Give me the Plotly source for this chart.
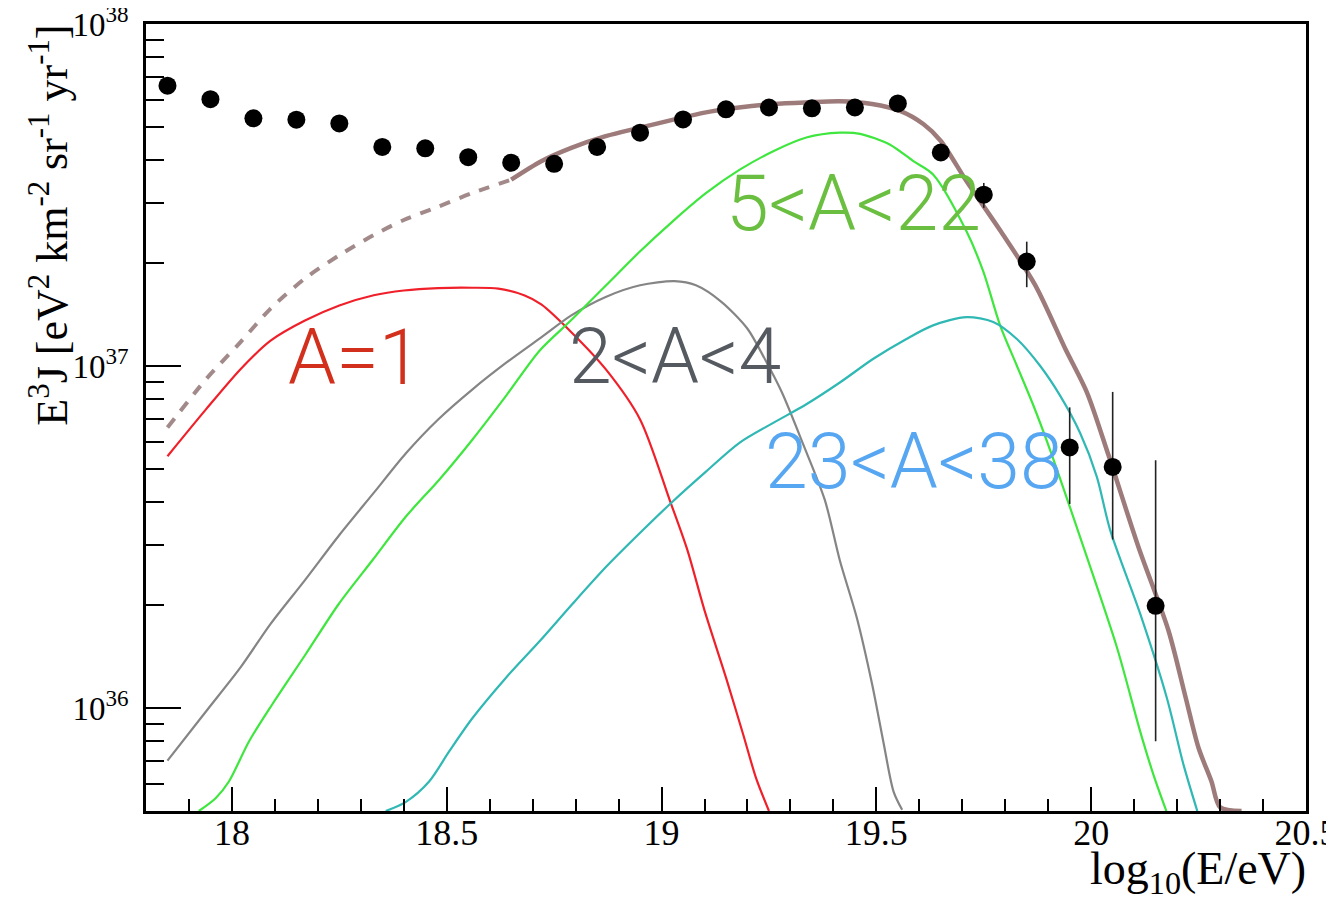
import math
import plotly.graph_objects as go

# ---------------- data ----------------
# measured spectrum (points) with asymmetric errors
data_x = [17.85, 17.95, 18.05, 18.15, 18.25, 18.35, 18.45, 18.55, 18.65, 18.75,
          18.85, 18.95, 19.05, 19.15, 19.25, 19.35, 19.45, 19.55, 19.65, 19.75,
          19.85, 19.95, 20.05, 20.15]
data_y = [6.60e37, 6.03e37, 5.30e37, 5.25e37, 5.12e37, 4.37e37, 4.33e37, 4.08e37, 3.93e37, 3.90e37,
          4.37e37, 4.81e37, 5.26e37, 5.63e37, 5.70e37, 5.67e37, 5.70e37, 5.86e37, 4.21e37, 3.17e37,
          2.02e37, 5.78e36, 5.07e36, 1.99e36]
data_hi = [0, 0, 0, 0, 0, 0, 0, 0, 0, 0,
           0, 0, 0, 0, 0, 0, 0, 0, 0, 3.43e37,
           2.31e37, 7.57e36, 8.40e36, 5.30e36]
data_lo = [0, 0, 0, 0, 0, 0, 0, 0, 0, 0,
           0, 0, 0, 0, 0, 0, 0, 0, 0, 2.90e37,
           1.70e37, 3.95e36, 3.11e36, 8.0e35]

# A = 1
p_x = [17.85, 17.94, 18.02, 18.09, 18.17, 18.25, 18.33, 18.40, 18.48, 18.56, 18.62, 18.68,
       18.72, 18.79, 18.87, 18.95, 19.02, 19.06, 19.10, 19.15, 19.19, 19.22, 19.25]
p_y = [5.45e36, 7.48e36, 9.79e36, 1.186e37, 1.358e37, 1.503e37, 1.61e37, 1.663e37, 1.69e37,
       1.694e37, 1.683e37, 1.61e37, 1.514e37, 1.256e37, 9.79e36, 6.98e36, 4.02e36, 2.90e36,
       1.93e36, 1.227e36, 8.37e35, 6.24e35, 5.0e35]

# 2 < A < 4
he_x = [17.85, 17.94, 18.02, 18.09, 18.17, 18.25, 18.33, 18.405, 18.48, 18.56, 18.64, 18.72,
        18.79, 18.87, 18.95, 19.03, 19.08, 19.14, 19.20, 19.24, 19.28, 19.33, 19.38, 19.415,
        19.454, 19.49, 19.516, 19.54, 19.56]
he_y = [7.02e35, 9.79e35, 1.315e36, 1.762e36, 2.366e36, 3.206e36, 4.256e36, 5.56e36, 6.98e36,
        8.55e36, 1.026e37, 1.213e37, 1.406e37, 1.592e37, 1.722e37, 1.770e37, 1.722e37, 1.538e37,
        1.285e37, 1.05e37, 8.38e36, 5.89e36, 4.06e36, 2.70e36, 1.845e36, 1.175e36, 8.0e35,
        5.70e35, 5.04e35]

# 5 < A < 22
cno_x = [17.923, 17.962, 17.993, 18.04, 18.094, 18.172, 18.249, 18.327, 18.405, 18.483, 18.56,
         18.638, 18.716, 18.793, 18.871, 18.949, 19.026, 19.104, 19.182, 19.26, 19.337, 19.415,
         19.462, 19.531, 19.586, 19.632, 19.71, 19.749, 19.788, 19.827, 19.866, 19.904, 19.982,
         20.06, 20.114, 20.145, 20.175]
cno_y = [5.0e35, 5.45e35, 6.10e35, 8.0e35, 1.026e36, 1.439e36, 2.018e36, 2.704e36, 3.63e36,
         4.66e36, 6.10e36, 8.18e36, 1.109e37, 1.374e37, 1.722e37, 2.158e37, 2.649e37, 3.206e37,
         3.75e37, 4.246e37, 4.656e37, 4.81e37, 4.775e37, 4.446e37, 3.972e37, 3.63e37, 2.472e37,
         1.888e37, 1.315e37, 1.002e37, 7.64e36, 5.70e36, 2.958e36, 1.503e36, 8.55e35, 6.38e35,
         5.0e35]

# 23 < A < 38
si_x = [18.358, 18.405, 18.459, 18.506, 18.56, 18.638, 18.716, 18.793, 18.871, 18.949, 19.026,
        19.104, 19.182, 19.26, 19.337, 19.415, 19.493, 19.57, 19.632, 19.71, 19.772, 19.827,
        19.881, 19.928, 19.974, 20.013, 20.044, 20.114, 20.176, 20.215, 20.247]
si_y = [5.0e35, 5.32e35, 6.10e35, 7.48e35, 9.35e35, 1.227e36, 1.567e36, 2.018e36, 2.588e36,
        3.243e36, 4.018e36, 4.92e36, 5.97e36, 6.82e36, 7.73e36, 8.95e36, 1.05e37, 1.20e37,
        1.315e37, 1.39e37, 1.346e37, 1.20e37, 1.002e37, 8.18e36, 6.38e36, 4.75e36, 3.32e36,
        1.888e36, 1.072e36, 6.82e35, 5.0e35]

# total (dashed below fit range, solid inside)
tot_dash_x = [17.85, 17.94, 18.02, 18.09, 18.17, 18.25, 18.33, 18.40, 18.48, 18.56, 18.65]
tot_dash_y = [6.61e36, 9.16e36, 1.175e37, 1.472e37, 1.803e37, 2.109e37, 2.415e37, 2.673e37,
              2.924e37, 3.206e37, 3.508e37]
tot_x = [18.65, 18.72, 18.79, 18.87, 18.95, 19.03, 19.10, 19.18, 19.26, 19.34, 19.415, 19.49,
         19.555, 19.61, 19.65, 19.71, 19.79, 19.87, 19.94, 19.99, 20.04, 20.11, 20.18, 20.22,
         20.25, 20.28, 20.30, 20.35]
tot_y = [3.508e37, 3.972e37, 4.345e37, 4.70e37, 4.977e37, 5.26e37, 5.508e37, 5.70e37, 5.834e37,
         5.90e37, 5.943e37, 5.834e37, 5.57e37, 5.09e37, 4.55e37, 3.467e37, 2.472e37, 1.722e37,
         1.122e37, 8.38e36, 5.5e36, 2.958e36, 1.683e36, 1.072e36, 7.64e35, 6.10e35, 5.13e35,
         5.0e35]

labels = ["A=1", "2<A<4", "5<A<22", "23<A<38"]
label_x = [18.125, 18.78, 19.146, 19.236]
label_y = [1.055e37, 1.062e37, 2.98e37, 5.25e36]

y_major = [1e36, 1e37, 1e38]
y_major_text = ["10<sup>36</sup>", "10<sup>37</sup>", "10<sup>38</sup>"]
y_minor = [m * 10.0 ** e for e in (35, 36, 37) for m in range(2, 10) if m * 10.0 ** e >= 5e35]

# ---------------- figure ----------------
fig = go.Figure()

def curve(x, y, color, width, dash="solid"):
    fig.add_trace(go.Scatter(x=x, y=y, mode="lines",
                             line=dict(color=color, width=width, dash=dash,
                                       shape="spline", smoothing=0.8)))

curve(p_x, p_y, "#f0202a", 2.2)
curve(he_x, he_y, "#858585", 2.2)
curve(cno_x, cno_y, "#3ee63e", 2.2)
curve(si_x, si_y, "#2fb8b4", 2.2)
curve(tot_dash_x, tot_dash_y, "#a38a8a", 4, "11px,10px")
curve(tot_x, tot_y, "#9e7b7b", 4.5)

err_plus = [h - v if h else 0 for h, v in zip(data_hi, data_y)]
err_minus = [v - l if l else 0 for l, v in zip(data_lo, data_y)]
fig.add_trace(go.Scatter(
    x=data_x, y=data_y, mode="markers",
    marker=dict(color="black", size=18),
    error_y=dict(type="data", symmetric=False, array=err_plus, arrayminus=err_minus,
                 color="#222222", thickness=1.6, width=0),
))

label_colors = ["#d2301c", "#555a60", "#6abf40", "#56a6f2"]
for t, lx, ly, c in zip(labels, label_x, label_y, label_colors):
    fig.add_annotation(x=lx, y=math.log10(ly), text=t, showarrow=False,
                       xanchor="left", yanchor="middle",
                       font=dict(family="Roboto", size=77, color=c, weight=300))

serif = "Liberation Serif"
fig.add_annotation(xref="paper", yref="paper", x=1.002, y=-0.038, xanchor="right", yanchor="top",
                   text="log<sub>10</sub>(E/eV)", showarrow=False,
                   font=dict(family=serif, size=46, color="black"))
fig.add_annotation(xref="paper", yref="paper", x=-0.083, y=1.002, xanchor="center", yanchor="top",
                   text="E<sup>3</sup>J [eV<sup>2</sup> km<sup>-2</sup> sr<sup>-1</sup> yr<sup>-1</sup>]",
                   textangle=-90, showarrow=False,
                   font=dict(family=serif, size=44, color="black"))

fig.update_xaxes(range=[17.8, 20.5], tickmode="linear", tick0=18, dtick=0.5,
                 ticks="inside", ticklen=24, tickwidth=2, tickcolor="black",
                 minor=dict(ticks="inside", dtick=0.1, tick0=18, ticklen=12, tickwidth=2,
                            tickcolor="black"),
                 showline=True, linecolor="black", linewidth=2.5, mirror=True,
                 showgrid=False, zeroline=False, ticklabeloverflow="allow", automargin=False,
                 tickfont=dict(family=serif, size=36, color="black"), ticklabelstandoff=-12)
fig.update_yaxes(type="log", range=[35.699, 38.0], tickmode="array",
                 tickvals=y_major, ticktext=y_major_text,
                 ticks="inside", ticklen=35, tickwidth=2, tickcolor="black",
                 minor=dict(ticks="inside", tickmode="array", tickvals=y_minor, ticklen=18,
                            tickwidth=2, tickcolor="black"),
                 showline=True, linecolor="black", linewidth=2.5, mirror=True,
                 showgrid=False, zeroline=False, ticklabeloverflow="allow", automargin=False,
                 tickfont=dict(family=serif, size=33, color="black"), ticklabelstandoff=8)

fig.update_layout(width=1334, height=908, margin=dict(l=138, r=36, t=16, b=105),
                  paper_bgcolor="white", plot_bgcolor="white", showlegend=False)

fig.write_html("out.html")
